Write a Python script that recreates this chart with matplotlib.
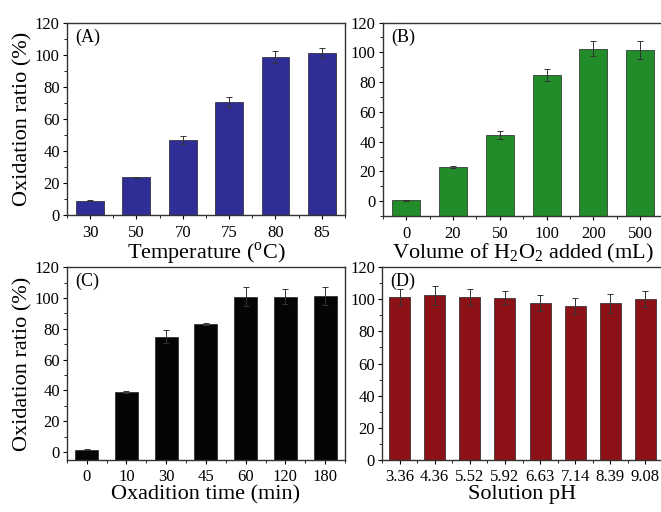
import matplotlib.pyplot as plt
from matplotlib.ticker import MultipleLocator

plt.rcParams['font.family'] = ['Liberation Serif', 'DejaVu Serif']
plt.rcParams['mathtext.fontset'] = 'custom'
plt.rcParams['mathtext.rm'] = 'Liberation Serif'

# (A) temperature
temp_labels = ['30', '50', '70', '75', '80', '85']
temp_vals = [9, 23.5, 47, 70.5, 98.5, 101]
temp_err = [0.5, 0.5, 2.5, 3, 4, 3]

# (B) H2O2 volume
vol_labels = ['0', '20', '50', '100', '200', '500']
vol_vals = [0.7, 23, 44.5, 84.5, 102.5, 101.5]
vol_err = [0.3, 0.5, 2.5, 4, 5, 6]

# (C) time
time_labels = ['0', '10', '30', '45', '60', '120', '180']
time_vals = [1.5, 39, 75, 83, 101, 101, 101.5]
time_err = [0.3, 0.5, 4, 0.5, 6, 5, 6]

# (D) pH
ph_labels = ['3.36', '4.36', '5.52', '5.92', '6.63', '7.14', '8.39', '9.08']
ph_vals = [101.5, 102.5, 101.5, 101, 97.5, 96, 97.5, 100.5]
ph_err = [5, 6, 5, 4, 5, 5, 6, 5]

fig = plt.figure(figsize=(6.61, 5.12), dpi=100)


def panel(rect, labels, vals, err, color, width, ylim, xlabel, tag, ylabel=True):
  ax = fig.add_axes(rect)
  x = list(range(len(vals)))
  base = ylim[0]
  # bars start at the bottom of the axis, like the original plot
  ax.bar(x, [v - base for v in vals], bottom=base, width=width, color=color,
         edgecolor='#222222', linewidth=0.5)
  ax.errorbar(x, vals, yerr=err, fmt='none', ecolor='#333333', elinewidth=0.7,
              capsize=2.5, capthick=0.7)
  ax.set_xlim(-0.5, len(vals) - 0.5)
  ax.set_ylim(*ylim)
  ax.set_xticks(x)
  ax.set_xticklabels(labels)
  ax.xaxis.set_minor_locator(MultipleLocator(0.5))
  ax.yaxis.set_major_locator(MultipleLocator(20))
  ax.yaxis.set_minor_locator(MultipleLocator(10))
  ax.tick_params(which='major', direction='out', length=3, width=0.8, labelsize=12, pad=2)
  ax.tick_params(which='minor', direction='out', length=2, width=0.6)
  ax.tick_params(axis='x', pad=4)
  for s in ax.spines.values():
    s.set_linewidth(1.0)
    s.set_color('#333333')
  ax.set_xlabel(xlabel, fontsize=16, labelpad=0)
  if ylabel:
    ax.set_ylabel('Oxidation ratio (%)', fontsize=16, labelpad=2)
  ax.text(0.03, 0.97, tag, transform=ax.transAxes, ha='left', va='top', fontsize=13)
  return ax


panel([0.101, 0.580, 0.421, 0.376], temp_labels, temp_vals, temp_err, '#2f2d96', 0.6,
      (0, 120), 'Temperature ($^{\\rm o}$C)', '(A)')
panel([0.579, 0.578, 0.425, 0.378], vol_labels, vol_vals, vol_err, '#238c2a', 0.6,
      (-10, 120), 'Volume of H$_2$O$_2$ added (mL)', '(B)', ylabel=False)
panel([0.101, 0.102, 0.421, 0.376], time_labels, time_vals, time_err, '#050505', 0.58,
      (-5, 120), 'Oxadition time (min)', '(C)')
panel([0.578, 0.102, 0.425, 0.376], ph_labels, ph_vals, ph_err, '#8c1218', 0.6,
      (0, 120), 'Solution pH', '(D)', ylabel=False)

fig.savefig('out.png', dpi=100)
